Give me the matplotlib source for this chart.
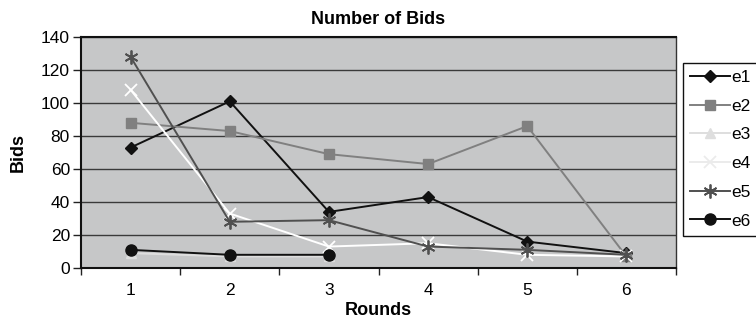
import numpy as np
import matplotlib
matplotlib.use("Agg")
import matplotlib.pyplot as plt
from matplotlib.ticker import FixedLocator, NullFormatter
from matplotlib.lines import Line2D

plt.rcParams['font.family'] = ['Liberation Sans', 'DejaVu Sans']

rounds = [1, 2, 3, 4, 5, 6]
round_labels = ["1", "2", "3", "4", "5", "6"]

e1 = [73, 101, 34, 43, 16, 9]
e2 = [88, 83, 69, 63, 86, 7]
e3 = [9, 7, 7, np.nan, np.nan, np.nan]
e4 = [108, 33, 13, 15, 8, 7]
e5 = [128, 28, 29, 13, 11, 8]
e6 = [11, 8, 8, np.nan, np.nan, np.nan]

series = [
    ("e1", e1, dict(color="#111111", marker="D", ms=6.5, mfc="#111111", mec="#111111")),
    ("e2", e2, dict(color="#808080", marker="s", ms=7.5, mfc="#808080", mec="#808080")),
    ("e3", e3, dict(color="#dedede", marker="^", ms=7, mfc="#dedede", mec="#dedede")),
    ("e4", e4, dict(color="#ffffff", marker="x", ms=8, mew=1.3, mec="#ffffff")),
    ("e5", e5, dict(color="#505050", marker=(6, 2, 0), ms=10, mew=1.3, mec="#505050")),
    ("e6", e6, dict(color="#111111", marker="o", ms=8, mfc="#111111", mec="#111111")),
]

fig = plt.figure(figsize=(7.56, 3.29), dpi=100)
ax = fig.add_axes([81 / 756, 1 - 268 / 329, 595 / 756, 231 / 329])
ax.set_facecolor("#c6c7c8")

handles = []
for name, vals, style in series:
    ax.plot(rounds, vals, lw=1.4, zorder=3, **style)
    # legend swatch: the white series is shown in a faint grey on the white key
    key_style = dict(style)
    if name == "e4":
        key_style.update(color="#ebebeb", mec="#ebebeb")
    handles.append(Line2D([], [], lw=1.4, label=name, **key_style))

ax.set_xlim(0.5, 6.5)
ax.set_ylim(0, 140)
ax.set_yticks(np.arange(0, 141, 20))
ax.yaxis.grid(True, color="#3a3a3a", lw=1.0)
ax.set_axisbelow(True)

ax.set_xticks(rounds)
ax.set_xticklabels(round_labels)
ax.tick_params(axis="x", which="major", length=0, pad=11, labelsize=12.5)
ax.xaxis.set_minor_locator(FixedLocator(np.arange(0.5, 7.0, 1.0)))
ax.xaxis.set_minor_formatter(NullFormatter())
ax.tick_params(axis="x", which="minor", length=5, width=1, color="#222222")
ax.tick_params(axis="y", length=6, width=1, color="#222222", labelsize=12.5, pad=2)

for side in ["left", "bottom", "top"]:
    ax.spines[side].set_color("#111111")
    ax.spines[side].set_linewidth(1.5)
ax.spines["right"].set_color("#333333")
ax.spines["right"].set_linewidth(1.0)

ax.set_title("Number of Bids", fontsize=13, fontweight="bold", pad=9)
ax.set_xlabel("Rounds", fontsize=13, fontweight="bold", labelpad=3)
ax.set_ylabel("Bids", fontsize=13, fontweight="bold", labelpad=10)

leg = fig.legend(handles=handles, loc="upper left",
                 bbox_to_anchor=(683 / 756, 1 - 63 / 329),
                 frameon=True, fancybox=False, edgecolor="#111111",
                 facecolor="white", framealpha=1, fontsize=12.5,
                 handlelength=2.3, labelspacing=0.78, borderaxespad=0,
                 handletextpad=0.1, borderpad=0.4)
leg.get_frame().set_linewidth(1.0)

fig.savefig("out.png", dpi=100, facecolor="white")
